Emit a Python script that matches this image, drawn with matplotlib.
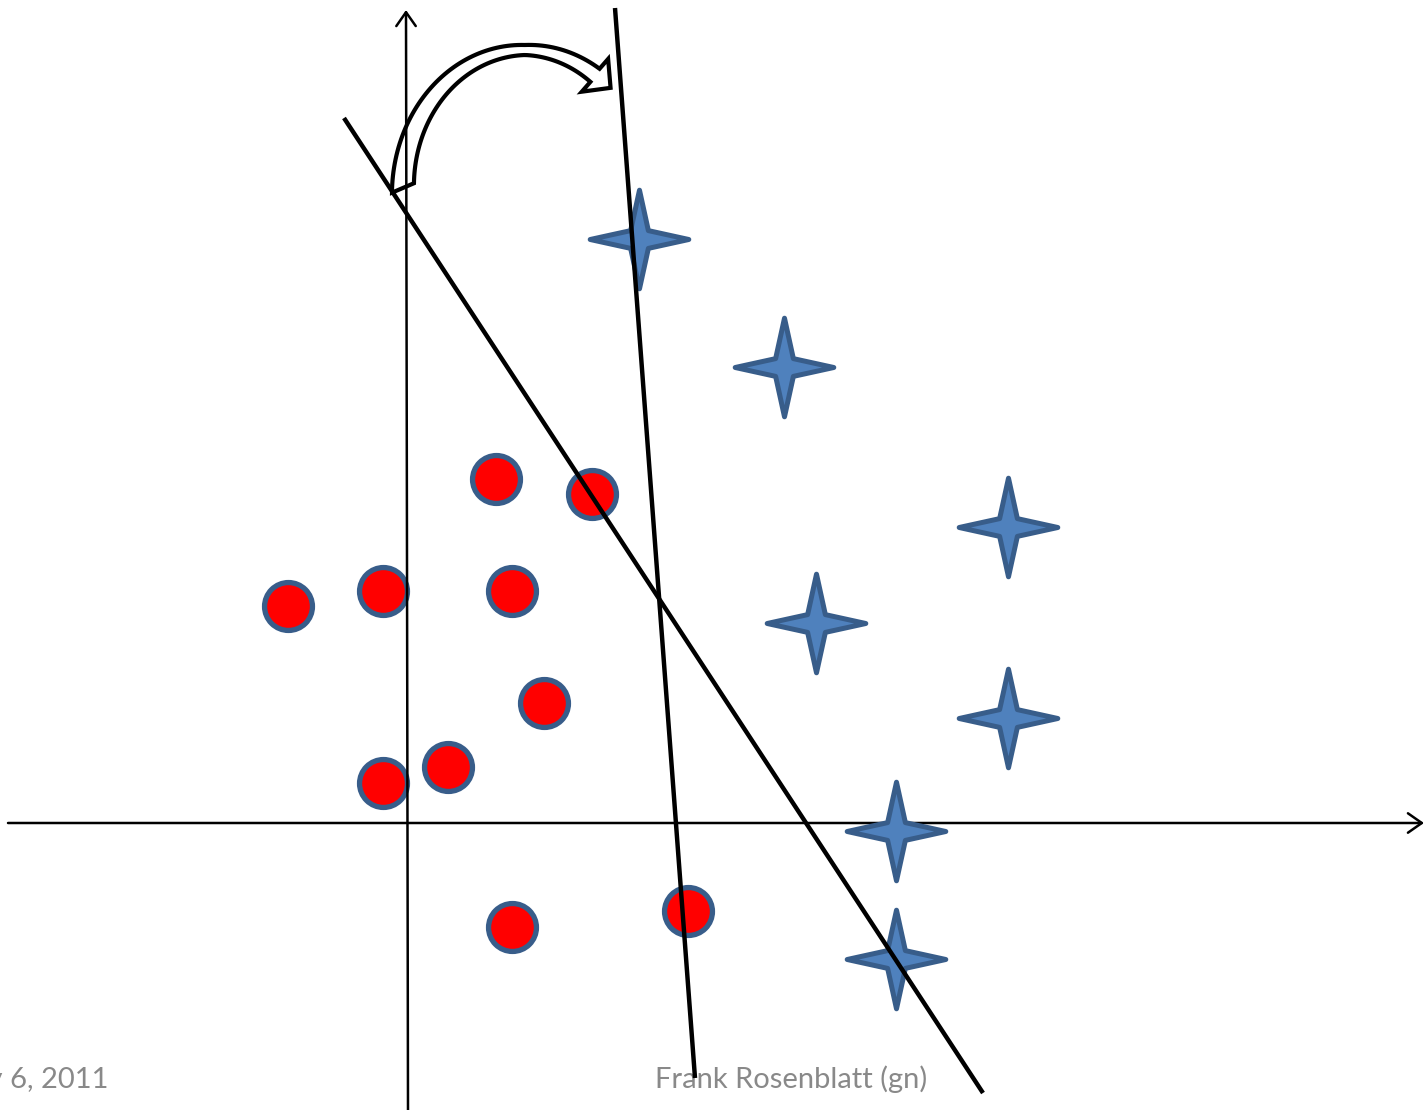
import numpy as np
import matplotlib.pyplot as plt
from matplotlib.path import Path
from matplotlib.patches import PathPatch

# class 1 (red circles) and class 2 (blue stars)
circle_x = np.array([-120, -25, 88, 184, 104, 136, -25, 40, 104, 280])
circle_y = np.array([217, 232, 344, 329, 232, 120, 40, 56, -104, -88])

star_x = np.array([231, 376, 600, 408, 600, 488, 488])
star_y = np.array([584, 456, 296, 200, 105, -8, -136])

# two separating lines: old and new weight vector
line_old_x = [-64, 575]
line_old_y = [705, -270]
line_new_x = [207, 287]
line_new_y = [815, -255]

footer_left = 'May 6, 2011'
footer_mid = 'Frank Rosenblatt (gn)'

fig = plt.figure(figsize=(14.26, 11.1), dpi=100)
ax = fig.add_axes([0, 0, 1, 1])
ax.set_xlim(-408, 1018)
ax.set_ylim(-287, 823)
ax.axis('off')

# coordinate axes with open arrow heads
ax.annotate('', xy=(1016, 0), xytext=(-400, 0),
            arrowprops=dict(arrowstyle='->,head_length=1.0,head_width=0.7',
                            lw=1.8, color='black', shrinkA=0, shrinkB=0), zorder=1)
ax.annotate('', xy=(-2, 813), xytext=(0, -290),
            arrowprops=dict(arrowstyle='->,head_length=1.0,head_width=0.7',
                            lw=1.8, color='black', shrinkA=0, shrinkB=0), zorder=3)

# 4-point star marker
k = 0.18
star = Path([(0, 1), (k, k), (1, 0), (k, -k), (0, -1), (-k, -k), (-1, 0), (-k, k), (0, 1)],
            [Path.MOVETO] + [Path.LINETO] * 7 + [Path.CLOSEPOLY])

ax.plot(circle_x, circle_y, 'o', ms=34.5, mfc='#FF0000', mec='#385D8A', mew=3.8, zorder=2)
ax.plot(star_x, star_y, marker=star, ls='none', ms=71, mfc='#4F81BD', mec='#385D8A',
        mew=3.6, zorder=2)

ax.plot(line_old_x, line_old_y, color='black', lw=3.2, solid_capstyle='butt', zorder=4)
ax.plot(line_new_x, line_new_y, color='black', lw=3.2, solid_capstyle='butt', zorder=4)

# curved block arrow from the old line towards the new one
cx, cy, rx, ry = 117, 633, 122, 140
t_end = np.radians(55)
th_o = np.linspace(np.radians(181), t_end, 80)
th_i = np.linspace(np.radians(177), t_end, 80)
hw_o = np.interp(th_o, np.radians([55, 90, 180]), [8, 5, 11])
hw_i = np.interp(th_i, np.radians([55, 90, 180]), [8, 5, 11])
outer = np.c_[cx + (rx + hw_o) * np.cos(th_o), cy + (ry + hw_o) * np.sin(th_o)]
inner = np.c_[cx + (rx - hw_i) * np.cos(th_i), cy + (ry - hw_i) * np.sin(th_i)]
mid = np.array([cx + rx * np.cos(t_end), cy + ry * np.sin(t_end)])
tang = np.array([rx * np.sin(t_end), -ry * np.cos(t_end)])
tang /= np.hypot(*tang)
norm = np.array([-tang[1], tang[0]])
head = [mid + norm * 21, mid + tang * 20, mid - norm * 21]
verts = np.vstack([outer, head[0], head[1], head[2], inner[::-1], outer[:1]])
codes = [Path.MOVETO] + [Path.LINETO] * (len(verts) - 2) + [Path.CLOSEPOLY]
ax.add_patch(PathPatch(Path(verts, codes), facecolor='none', edgecolor='black',
                       lw=3, joinstyle='miter', zorder=5))

ax.text(-300, -265, footer_left, ha='right', va='baseline', fontsize=21,
        family='Lato', color='#898989', zorder=0)
ax.text(247, -265, footer_mid, ha='left', va='baseline', fontsize=21,
        family='Lato', color='#898989', zorder=0)

fig.savefig('out.png', dpi=100)
